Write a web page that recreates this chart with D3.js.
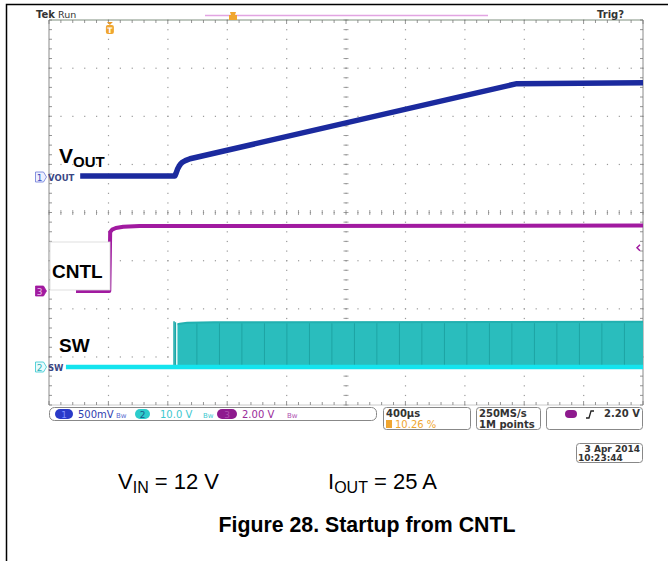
<!DOCTYPE html>
<html>
<head>
<meta charset="utf-8">
<script src="https://cdn.jsdelivr.net/npm/d3@7"></script>
<style>
  body { margin: 0; background: #fff; }
  svg { display: block; }
</style>
</head>
<body>
<svg id="scope"></svg>
<script>
// Time axis in microseconds relative to the trigger (400 us/div, 10 divisions)
var timeDomain = [-410, 3590];

// CH1 VOUT, volts (500 mV/div)
var voutTime  = [-200, 438, 446, 455, 465, 476, 490, 508, 540, 2741, 3590];
var voutVolts = [0.01, 0.01, 0.04, 0.08, 0.11, 0.135, 0.155, 0.17, 0.19, 0.97, 0.98];

// CH3 CNTL, volts (2 V/div)
var cntlTime  = [-228, -4, 2, 15, 40, 90, 200, 3590];
var cntlVolts = [0, 0, 2.45, 2.55, 2.62, 2.67, 2.7, 2.72];

// CH2 SW, volts (10 V/div)
var swLowTime   = [-296, 3590];
var swLowVolts  = [0, 0];
var swPulseTime = [432, 441];
var swPulseTop  = [9.5, 9.3];
var swBurstTime = [455, 470, 520, 700, 3590];
var swBurstTop  = [8.9, 9.0, 9.2, 9.3, 9.4];
var swBandTime  = [586, 738, 889, 1041, 1192, 1344, 1495, 1647, 1798, 1950,
                   2101, 2253, 2404, 2556, 2707, 2859, 3010, 3162, 3313, 3465];

// readouts
var chScaleLabels = ["500mV", "10.0 V", "2.00 V"];
var timeLabel = "400µs";
var trigPosLabel = "10.26 %";
var sampleLabels = ["250MS/s", "1M points"];
var trigLevelLabel = "2.20 V";
var dateLabels = ["3 Apr 2014", "10:23:44"];

var width = 668, height = 561;
var gLeft = 49, gRight = 643, gTop = 20, gBottom = 405;
var divX = (gRight - gLeft) / 10, divY = (gBottom - gTop) / 8;
var cx = (gLeft + gRight) / 2, cy = (gTop + gBottom) / 2;

var blue = "#1b2a9e", magenta = "#a11aa0", teal = "#2abdbd", cyan = "#14e4ee";
var scopeFont = "'DejaVu Sans', sans-serif";

var svg = d3.select("#scope").attr("width", width).attr("height", height);
svg.append("rect").attr("width", width).attr("height", height).attr("fill", "#fff");

// page frame
svg.append("rect")
    .attr("x", 6.5).attr("y", 4.5).attr("width", 700).attr("height", 600)
    .attr("fill", "none").attr("stroke", "#000").attr("stroke-width", 1.5);

var x = d3.scaleLinear().domain(timeDomain).range([gLeft, gRight]);
var y1 = d3.scaleLinear().domain([0, 0.5]).range([177, 177 - divY]);
var y3 = d3.scaleLinear().domain([0, 2]).range([291, 291 - divY]);
var y2 = d3.scaleLinear().domain([0, 10]).range([367, 367 - divY]);

// ---- graticule ----
var grid = svg.append("g");
var i, k;
for (i = 1; i < 10; i++) {
    var gx = gLeft + i * divX;
    for (k = 0; k <= 40; k++) {
        grid.append("rect").attr("x", gx - 0.5).attr("y", gTop + k * divY / 5 - 0.5)
            .attr("width", 1.2).attr("height", 1.2).attr("fill", "#9a9a9a");
    }
}
for (i = 1; i < 8; i++) {
    var gy = gTop + i * divY;
    for (k = 0; k <= 50; k++) {
        grid.append("rect").attr("x", gLeft + k * divX / 5 - 0.5).attr("y", gy - 0.5)
            .attr("width", 1.2).attr("height", 1.2).attr("fill", "#9a9a9a");
    }
}
// center cross ticks
for (k = 0; k <= 50; k++) {
    grid.append("line").attr("x1", gLeft + k * divX / 5).attr("x2", gLeft + k * divX / 5)
        .attr("y1", cy - 2.5).attr("y2", cy + 2.5).attr("stroke", "#8a8a8a").attr("stroke-width", 0.8);
}
for (k = 0; k <= 40; k++) {
    grid.append("line").attr("y1", gTop + k * divY / 5).attr("y2", gTop + k * divY / 5)
        .attr("x1", cx - 2.5).attr("x2", cx + 2.5).attr("stroke", "#8a8a8a").attr("stroke-width", 0.8);
}
// edges with ticks
grid.append("line").attr("x1", gLeft).attr("x2", gRight).attr("y1", gTop).attr("y2", gTop)
    .attr("stroke", "#7f8f7f").attr("stroke-width", 1);
grid.append("line").attr("x1", gLeft).attr("x2", gRight).attr("y1", gBottom).attr("y2", gBottom)
    .attr("stroke", "#bdbdbd").attr("stroke-width", 0.8);
grid.append("line").attr("x1", gLeft).attr("x2", gLeft).attr("y1", gTop).attr("y2", gBottom)
    .attr("stroke", "#8a8a8a").attr("stroke-width", 1);
grid.append("line").attr("x1", gRight).attr("x2", gRight).attr("y1", gTop).attr("y2", gBottom)
    .attr("stroke", "#8a8a8a").attr("stroke-width", 1);
for (k = 0; k <= 50; k++) {
    var tx = gLeft + k * divX / 5, tl = (k % 5 === 0) ? 4 : 3;
    grid.append("line").attr("x1", tx).attr("x2", tx).attr("y1", gTop).attr("y2", gTop + tl)
        .attr("stroke", "#7a7a7a").attr("stroke-width", 0.8);
    grid.append("line").attr("x1", tx).attr("x2", tx).attr("y1", gBottom).attr("y2", gBottom - tl)
        .attr("stroke", "#7a7a7a").attr("stroke-width", 0.8);
}
for (k = 0; k <= 40; k++) {
    var ty = gTop + k * divY / 5;
    grid.append("line").attr("x1", gLeft).attr("x2", gLeft + 3).attr("y1", ty).attr("y2", ty)
        .attr("stroke", "#7a7a7a").attr("stroke-width", 0.8);
    grid.append("line").attr("x1", gRight).attr("x2", gRight - 3).attr("y1", ty).attr("y2", ty)
        .attr("stroke", "#7a7a7a").attr("stroke-width", 0.8);
}

// ---- traces ----
function pts(t, v) { return t.map(function (d, j) { return [d, v[j]]; }); }
function lineFor(yScale) {
    return d3.line().x(function (d) { return x(d[0]); }).y(function (d) { return yScale(d[1]); });
}

// SW burst area
var swArea = d3.area()
    .x(function (d) { return x(d[0]); })
    .y0(function () { return y2(0); })
    .y1(function (d) { return y2(d[1]); });
svg.append("path").attr("d", swArea(pts(swBurstTime, swBurstTop)))
    .attr("fill", teal);
svg.selectAll(".band").data(swBandTime).enter().append("line")
    .attr("x1", function (d) { return x(d); }).attr("x2", function (d) { return x(d); })
    .attr("y1", y2(9.1)).attr("y2", y2(0))
    .attr("stroke", "#1ea4a4").attr("stroke-width", 1);
svg.selectAll(".pulse").data(pts(swPulseTime, swPulseTop)).enter().append("line")
    .attr("x1", function (d) { return x(d[0]); }).attr("x2", function (d) { return x(d[0]); })
    .attr("y1", function (d) { return y2(d[1]); }).attr("y2", y2(0))
    .attr("stroke", "#1aa8a8").attr("stroke-width", 1.5);
svg.append("path").attr("d", lineFor(y2)(pts(swBurstTime, swBurstTop)))
    .attr("fill", "none").attr("stroke", "#22b0b0").attr("stroke-width", 2);
svg.append("path").attr("d", lineFor(y2)(pts(swLowTime, swLowVolts)))
    .attr("fill", "none").attr("stroke", cyan).attr("stroke-width", 4.5);

// CNTL
svg.append("path").attr("d", lineFor(y3)(pts(cntlTime, cntlVolts)))
    .attr("fill", "none").attr("stroke", magenta).attr("stroke-width", 4)
    .attr("stroke-linejoin", "round");

// VOUT
svg.append("path").attr("d", lineFor(y1)(pts(voutTime, voutVolts)))
    .attr("fill", "none").attr("stroke", blue).attr("stroke-width", 5.5)
    .attr("stroke-linejoin", "round");

// ---- trace labels ----
svg.append("rect").attr("x", gLeft + 1).attr("y", 242).attr("width", 60).attr("height", 48)
    .attr("fill", "#fff").attr("stroke", "#d8d8d8").attr("stroke-width", 0.8);
var bigText = svg.append("g").attr("font-family", "Arial, 'Liberation Sans', sans-serif")
    .attr("font-weight", "bold").attr("fill", "#000");
var vt = bigText.append("text").attr("x", 59).attr("y", 163).attr("font-size", 21);
vt.append("tspan").text("V");
vt.append("tspan").attr("dy", 4).attr("font-size", 15).text("OUT");
bigText.append("text").attr("x", 52).attr("y", 278).attr("font-size", 19).text("CNTL");
bigText.append("text").attr("x", 59).attr("y", 352).attr("font-size", 19).text("SW");

// channel markers on the left
function marker(yy, num, stroke, fill, txtFill, label) {
    var g = svg.append("g").attr("font-family", scopeFont);
    g.append("path")
        .attr("d", "M35.5," + (yy - 5) + "h8l3,5l-3,5h-8z")
        .attr("fill", fill).attr("stroke", stroke).attr("stroke-width", 0.8);
    g.append("text").attr("x", 39.5).attr("y", yy + 3.5).attr("text-anchor", "middle")
        .attr("font-size", 9).attr("fill", txtFill).text(num);
    if (label) {
        g.append("text").attr("x", 48).attr("y", yy + 3.5).attr("font-size", 8.5)
            .attr("font-weight", "bold").attr("fill", "#3a4684").text(label);
    }
}
marker(y1(0), "1", "#6a7ad8", "#eef0ff", "#4050c0", "VOUT");
marker(y3(0), "3", magenta, magenta, "#e8c0e8", null);
marker(y2(0), "2", "#30c8d0", "#e8fbfc", "#30b0b8", "SW");

// trigger level arrow on right
svg.append("path").attr("d", "M640," + (y3(1.8) - 3) + "l-3,3l3,3")
    .attr("fill", "none").attr("stroke", magenta).attr("stroke-width", 1.5);

// ---- top status ----
var topBar = svg.append("g").attr("font-family", scopeFont).attr("fill", "#333");
topBar.append("text").attr("x", 36).attr("y", 18).attr("font-size", 10).attr("font-weight", "bold").text("Tek");
topBar.append("text").attr("x", 58).attr("y", 18).attr("font-size", 9.5).text("Run");
topBar.append("text").attr("x", 597).attr("y", 18).attr("font-size", 10).attr("font-weight", "bold").text("Trig?");
svg.append("line").attr("x1", 205).attr("x2", 488).attr("y1", 15.5).attr("y2", 15.5)
    .attr("stroke", "#e2a4e2").attr("stroke-width", 1.5);
svg.append("path").attr("d", "M230,12h6l-1,3l2,0v5h-8v-5h2z").attr("fill", "#f0a630");
// trigger position marker
svg.append("path").attr("d", "M" + (x(0) - 3) + ",22h6l-3,3z").attr("fill", "#e89a2a");
svg.append("rect").attr("x", x(0) - 4).attr("y", 25).attr("width", 8).attr("height", 9).attr("rx", 2)
    .attr("fill", "#f0a630");
svg.append("text").attr("x", x(0)).attr("y", 32.5).attr("text-anchor", "middle")
    .attr("font-family", scopeFont).attr("font-size", 7.5).attr("font-weight", "bold")
    .attr("fill", "#fff").text("T");

// ---- bottom readouts ----
var rb = svg.append("g").attr("font-family", scopeFont).attr("font-size", 10);
rb.append("rect").attr("x", 49.5).attr("y", 407.5).attr("width", 327).attr("height", 13).attr("rx", 5)
    .attr("fill", "none").attr("stroke", "#888");
function pill(px, w, col, num, numCol) {
    rb.append("rect").attr("x", px).attr("y", 409).attr("width", w).attr("height", 10).attr("rx", 5).attr("fill", col);
    rb.append("text").attr("x", px + w / 2).attr("y", 417.5).attr("text-anchor", "middle")
        .attr("font-size", 9).attr("fill", numCol).text(num);
}
pill(55, 18, "#2a3ac8", "1", "#8090ff");
rb.append("text").attr("x", 78).attr("y", 418).attr("fill", "#3040b0").text(chScaleLabels[0]);
rb.append("text").attr("x", 116).attr("y", 418).attr("font-size", 7).attr("fill", "#5a6ad0").text("Bw");
pill(135, 15, "#2ccccc", "2", "#1a5a8a");
rb.append("text").attr("x", 160).attr("y", 418).attr("fill", "#40c8d0").text(chScaleLabels[1]);
rb.append("text").attr("x", 203).attr("y", 418).attr("font-size", 7).attr("fill", "#40c8d0").text("Bw");
pill(217, 20, "#8e1a8e", "3", "#b050b0");
rb.append("text").attr("x", 242).attr("y", 418).attr("fill", "#9a2a9a").text(chScaleLabels[2]);
rb.append("text").attr("x", 287).attr("y", 418).attr("font-size", 7).attr("fill", "#b050b0").text("Bw");

function box(bx, by, w, h) {
    rb.append("rect").attr("x", bx).attr("y", by).attr("width", w).attr("height", h).attr("rx", 3)
        .attr("fill", "none").attr("stroke", "#888");
}
box(383.5, 407.5, 87, 22);
rb.append("text").attr("x", 386).attr("y", 417).attr("fill", "#333").attr("font-weight", "bold").text(timeLabel);
rb.append("rect").attr("x", 386).attr("y", 420).attr("width", 6).attr("height", 8).attr("fill", "#f0a630");
rb.append("text").attr("x", 395).attr("y", 428).attr("fill", "#f0a630").text(trigPosLabel);
box(476.5, 407.5, 64, 22);
rb.append("text").attr("x", 479).attr("y", 417).attr("fill", "#333").attr("font-weight", "bold").text(sampleLabels[0]);
rb.append("text").attr("x", 479).attr("y", 428).attr("fill", "#333").attr("font-weight", "bold").text(sampleLabels[1]);
box(546.5, 407.5, 96, 22);
rb.append("rect").attr("x", 565).attr("y", 410).attr("width", 12).attr("height", 8).attr("rx", 4).attr("fill", "#8e1a8e");
rb.append("path").attr("d", "M586,418h3l2,-7h3").attr("fill", "none").attr("stroke", "#222").attr("stroke-width", 1.3);
rb.append("text").attr("x", 640).attr("y", 417).attr("text-anchor", "end").attr("fill", "#333")
    .attr("font-weight", "bold").text(trigLevelLabel);
box(576.5, 443.5, 66, 19);
rb.append("text").attr("x", 640).attr("y", 452).attr("text-anchor", "end").attr("font-size", 9)
    .attr("fill", "#333").attr("font-weight", "bold").text(dateLabels[0]);
rb.append("text").attr("x", 578).attr("y", 461).attr("font-size", 9)
    .attr("fill", "#333").attr("font-weight", "bold").text(dateLabels[1]);

// ---- caption ----
var cap = svg.append("g").attr("font-family", "Arial, 'Liberation Sans', sans-serif").attr("fill", "#000");
var vin = cap.append("text").attr("x", 118).attr("y", 489).attr("font-size", 22);
vin.append("tspan").text("V");
vin.append("tspan").attr("dy", 4).attr("font-size", 16).text("IN");
vin.append("tspan").attr("dy", -4).text(" = 12 V");
var iout = cap.append("text").attr("x", 328).attr("y", 489).attr("font-size", 22);
iout.append("tspan").text("I");
iout.append("tspan").attr("dy", 4).attr("font-size", 16).text("OUT");
iout.append("tspan").attr("dy", -4).text(" = 25 A");
cap.append("text").attr("x", 367).attr("y", 532).attr("text-anchor", "middle")
    .attr("font-size", 21.3).attr("font-weight", "bold").text("Figure 28. Startup from CNTL");
</script>
</body>
</html>
